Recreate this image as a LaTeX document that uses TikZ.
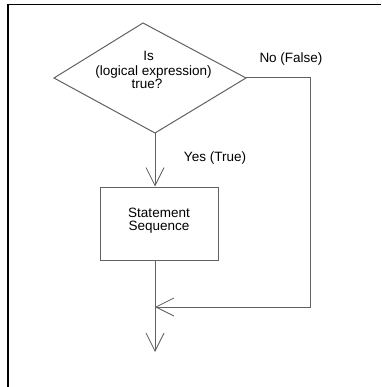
\documentclass[tikz,border=0pt]{standalone}
\usepackage{fontspec}
\setmainfont{Liberation Sans}
\usetikzlibrary{arrows.meta}
\begin{document}
\begin{tikzpicture}[x=1pt,y=-1pt,
  flow/.style={draw=black!62,line width=1pt},
  tip/.style={-{Straight Barb[length=18pt,width=18pt,line width=0.8pt]}},
  lbl/.style={inner sep=0pt,anchor=base,font=\fontsize{13.5}{14}\selectfont},
  frame/.style={draw=black,line width=1.3pt}]
  \useasboundingbox (0,0) rectangle (381,387);
  % page frame (top and left edges)
  \draw[frame] (381,4.5) -- (8,4.5) -- (8,387);
  % decision shape
  \coordinate (dtop) at (143,23);
  \coordinate (dleft) at (54,78);
  \coordinate (dright) at (246,78);
  \coordinate (dbot) at (155,133);
  \draw[flow] (dtop) -- (dright) -- (dbot) -- (dleft) -- cycle;
  \node[lbl] (q1) at (148.5,61) {Is};
  \node[lbl] (q2) at (153.5,75.5) {(logical expression)};
  \node[lbl] (q3) at (147,88.5) {true?};
  % process box
  \node[flow,minimum width=118pt,minimum height=73pt,inner sep=0pt] (stmt) at (159,223.5) {};
  \node[lbl] (s1) at (159,217) {Statement};
  \node[lbl] (s2) at (159,230.5) {Sequence};
  % connectors
  \coordinate (join) at (155,307);
  \coordinate (corner1) at (310,78);
  \coordinate (corner2) at (310,307);
  \coordinate (exit) at (155,352);
  \draw[flow,tip] (dbot) -- (stmt.north -| dbot);
  \draw[flow] (stmt.south -| dbot) -- (join);
  \draw[flow,tip] (join) -- (exit);
  \draw[flow,tip] (dright) -- (corner1) -- (corner2) -- (join);
  % branch labels
  \node[lbl] (no) at (291,63) {No (False)};
  \node[lbl] (yes) at (215,162) {Yes (True)};
\end{tikzpicture}
\end{document}
